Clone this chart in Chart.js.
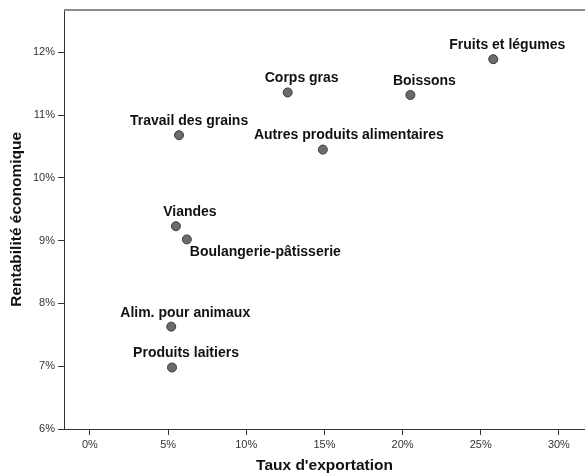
<!DOCTYPE html>
<html>
<head>
<meta charset="utf-8">
<script src="https://cdn.jsdelivr.net/npm/chart.js@4/dist/chart.umd.min.js"></script>
<style>
  html, body { margin: 0; padding: 0; background: #fff; overflow: hidden; }
</style>
</head>
<body>
<canvas id="scatterChart" width="585" height="475"></canvas>
<script>
// sectors of the food industry
const sectors = ['Fruits et légumes', 'Boissons', 'Corps gras', 'Autres produits alimentaires',
  'Travail des grains', 'Viandes', 'Boulangerie-pâtisserie', 'Alim. pour animaux', 'Produits laitiers'];
const exportRate = [25.8, 20.5, 12.65, 14.9, 5.7, 5.5, 6.2, 5.2, 5.25];   // x, %
const profitability = [11.89, 11.32, 11.36, 10.45, 10.68, 9.23, 9.02, 7.63, 6.98]; // y, %

// label placement (defaults: centred a bit right, above the dot)
const labelPlace = {
  'Autres produits alimentaires': { dx: 26 },
  'Travail des grains': { dx: 10 },
  'Boulangerie-pâtisserie': { dx: 3, dy: 13, align: 'left' }
};

const points = exportRate.map((x, i) => ({ x: x, y: profitability[i] }));

// draws the sector names next to each dot
const pointLabels = {
  id: 'pointLabels',
  afterDatasetsDraw(chart) {
    const ctx = chart.ctx;
    const meta = chart.getDatasetMeta(0);
    ctx.save();
    ctx.font = 'bold 14px "Liberation Sans", Arial, sans-serif';
    ctx.fillStyle = '#111';
    ctx.textBaseline = 'middle';
    meta.data.forEach((pt, i) => {
      const p = labelPlace[sectors[i]] || {};
      ctx.textAlign = p.align || 'center';
      ctx.fillText(sectors[i], pt.x + (p.dx ?? 14), pt.y + (p.dy ?? -14));
    });
    ctx.restore();
  }
};

// grey line along the top of the plot
const topLine = {
  id: 'topLine',
  beforeDatasetsDraw(chart) {
    const { ctx, chartArea } = chart;
    ctx.save();
    ctx.strokeStyle = '#8c8c8c';
    ctx.lineWidth = 2;
    ctx.beginPath();
    ctx.moveTo(chartArea.left, chartArea.top + 0.5);
    ctx.lineTo(chartArea.right, chartArea.top + 0.5);
    ctx.stroke();
    ctx.restore();
  }
};

const tickFont = { family: '"Liberation Sans", Arial, sans-serif', size: 11 };
const titleFont = { family: '"Liberation Sans", Arial, sans-serif', size: 15.5, weight: 'bold' };

const ctx = document.getElementById('scatterChart').getContext('2d');
const scatterChart = new Chart(ctx, {
  type: 'scatter',
  data: {
    datasets: [{
      data: points,
      pointRadius: 4.5,
      pointHoverRadius: 4.5,
      backgroundColor: '#6b6b6b',
      borderColor: '#3a3a3a',
      borderWidth: 1
    }]
  },
  options: {
    responsive: false,
    animation: false,
    events: [],
    layout: { autoPadding: false, padding: { top: 9, right: 0, bottom: 0, left: 0 } },
    plugins: {
      legend: { display: false },
      tooltip: { enabled: false }
    },
    scales: {
      x: {
        type: 'linear',
        min: -1.66,
        max: 31.67,
        afterFit: s => { s.height = 46; },
        border: { color: '#333', width: 1 },
        grid: { drawOnChartArea: false, drawTicks: true, tickLength: 6, color: '#333' },
        ticks: {
          stepSize: 5,
          includeBounds: false,
          padding: 3,
          color: '#333',
          font: tickFont,
          callback: v => v + '%'
        },
        title: { display: true, text: "Taux d'exportation", color: '#111', font: titleFont, padding: { top: 0, bottom: 0 } }
      },
      y: {
        type: 'linear',
        min: 6,
        max: 12.68,
        afterFit: s => { s.width = 64; },
        border: { color: '#333', width: 1 },
        grid: { drawOnChartArea: false, drawTicks: true, tickLength: 6, color: '#333' },
        ticks: {
          stepSize: 1,
          includeBounds: false,
          padding: 3,
          color: '#333',
          font: tickFont,
          callback: v => v + '%'
        },
        title: { display: true, text: 'Rentabilité économique', color: '#111', font: titleFont, padding: { top: 7.5, bottom: 0 } }
      }
    }
  },
  plugins: [topLine, pointLabels]
});
</script>
</body>
</html>
